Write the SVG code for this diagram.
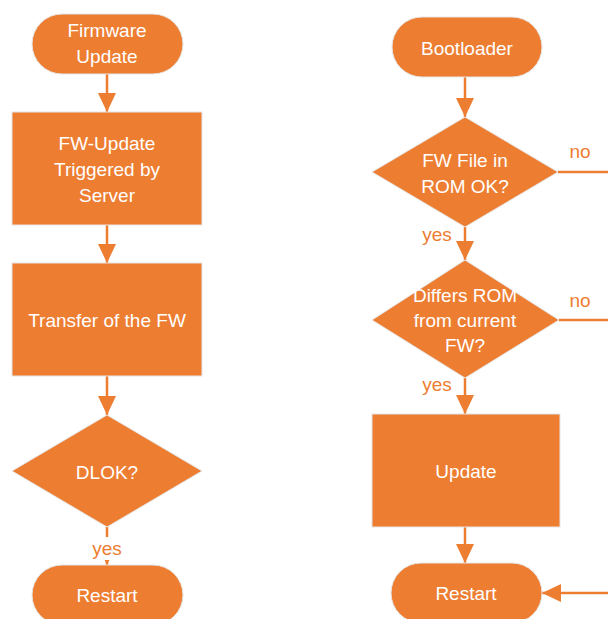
<svg xmlns="http://www.w3.org/2000/svg" width="608" height="619" viewBox="0 0 608 619">
  <style>
    .shape { fill: #ED7D31; stroke: #e6e6e6; stroke-width: 1; }
    .txt { font-family: "Liberation Sans", "Open Sans", sans-serif; font-size: 19px; fill: #ffffff; text-anchor: middle; }
    .lbl { font-family: "Liberation Sans", "Open Sans", sans-serif; font-size: 19px; fill: #ED7D31; text-anchor: middle; }
    .conn { stroke: #ED7D31; stroke-width: 2.5; fill: none; }
  </style>
  <defs>
    <marker id="arrow" markerUnits="userSpaceOnUse" markerWidth="20" markerHeight="18" refX="19" refY="9" orient="auto">
      <path d="M0,0 L19,9 L0,18 Z" fill="#ED7D31"/>
    </marker>
  </defs>
  <rect width="608" height="619" fill="#ffffff"/>

  <!-- connectors -->
  <g id="connectors">
    <line class="conn" x1="107" y1="74" x2="107" y2="112" marker-end="url(#arrow)"/>
    <line class="conn" x1="107" y1="225" x2="107" y2="263" marker-end="url(#arrow)"/>
    <line class="conn" x1="107" y1="376" x2="107" y2="415" marker-end="url(#arrow)"/>
    <line class="conn" x1="107" y1="527" x2="107" y2="565" marker-end="url(#arrow)"/>
    <rect x="90" y="537" width="34" height="23" fill="#ffffff"/>
    <text class="lbl" x="107" y="555">yes</text>

    <line class="conn" x1="465" y1="77" x2="465" y2="117" marker-end="url(#arrow)"/>
    <line class="conn" x1="465" y1="227" x2="465" y2="260" marker-end="url(#arrow)"/>
    <text class="lbl" x="437" y="241">yes</text>
    <line class="conn" x1="558" y1="172" x2="608" y2="172"/>
    <text class="lbl" x="580" y="158">no</text>

    <line class="conn" x1="465" y1="378" x2="465" y2="414" marker-end="url(#arrow)"/>
    <text class="lbl" x="437" y="391">yes</text>
    <line class="conn" x1="559" y1="320" x2="608" y2="320"/>
    <text class="lbl" x="580" y="307">no</text>

    <line class="conn" x1="465" y1="527" x2="465" y2="563" marker-end="url(#arrow)"/>
    <line class="conn" x1="608" y1="593" x2="542" y2="593" marker-end="url(#arrow)"/>
  </g>

  <!-- left flow -->
  <g id="firmware-update">
    <rect class="shape" x="32" y="14" width="151" height="60" rx="30"/>
    <text class="txt" x="107" y="37">Firmware</text>
    <text class="txt" x="107" y="63">Update</text>
  </g>
  <g id="fw-update-triggered">
    <rect class="shape" x="12" y="112" width="190" height="113"/>
    <text class="txt" x="107" y="150">FW-Update</text>
    <text class="txt" x="107" y="176">Triggered by</text>
    <text class="txt" x="107" y="202">Server</text>
  </g>
  <g id="transfer-fw">
    <rect class="shape" x="12" y="263" width="190" height="113"/>
    <text class="txt" x="107" y="327">Transfer of the FW</text>
  </g>
  <g id="dl-ok">
    <polygon class="shape" points="107,415 202,471 107,527 12,471"/>
    <text class="txt" x="107" y="479">DLOK?</text>
  </g>
  <g id="restart-left">
    <rect class="shape" x="32" y="565" width="151" height="60" rx="30"/>
    <text class="txt" x="107" y="602">Restart</text>
  </g>

  <!-- right flow -->
  <g id="bootloader">
    <rect class="shape" x="392" y="17" width="150" height="60" rx="30"/>
    <text class="txt" x="467" y="55">Bootloader</text>
  </g>
  <g id="fw-file-ok">
    <polygon class="shape" points="465,117 558,172 465,227 372,172"/>
    <text class="txt" x="465" y="167">FW File in</text>
    <text class="txt" x="465" y="193">ROM OK?</text>
  </g>
  <g id="differs-rom">
    <polygon class="shape" points="465,260 559,320 465,378 372,320"/>
    <text class="txt" x="465" y="302">Differs ROM</text>
    <text class="txt" x="465" y="327">from current</text>
    <text class="txt" x="465" y="352">FW?</text>
  </g>
  <g id="update">
    <rect class="shape" x="372" y="414" width="188" height="113"/>
    <text class="txt" x="466" y="478">Update</text>
  </g>
  <g id="restart-right">
    <rect class="shape" x="391" y="563" width="151" height="60" rx="30"/>
    <text class="txt" x="466" y="600">Restart</text>
  </g>
</svg>
